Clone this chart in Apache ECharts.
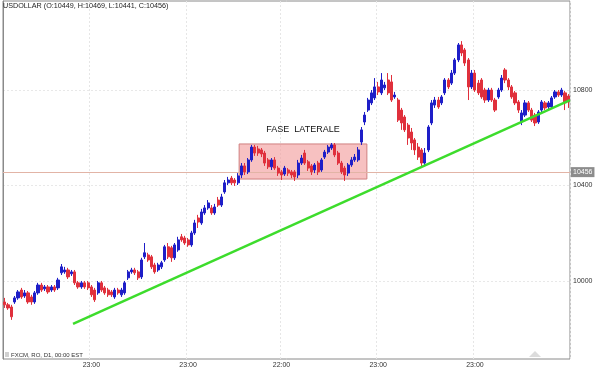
<!DOCTYPE html>
<html>
<head>
<meta charset="utf-8">
<script src="https://cdn.jsdelivr.net/npm/echarts@6/dist/echarts.min.js"></script>
<style>html,body{margin:0;padding:0;background:#fff;}#c{width:600px;height:369px;}</style>
</head>
<body>
<div id="c"></div>
<script>
const headerText = 'USDOLLAR (O:10449, H:10469, L:10441, C:10456)';
const footerText = 'FXCM, RO, D1, 00:00 EST';
const tickIndex = [26, 55, 83, 112, 141];
const tickLabels = ['23:00', '23:00', '22:00', '23:00', '23:00'];
const yTickValues = [10000, 10400, 10800];
const lastPrice = 10456;

const open = [
9912,9900,9891,9912,9929,9962,9937,9950,9933,9912,
9950,9983,9967,9975,9962,9975,9971,10034,10038,10046,
10030,10038,9992,9975,9992,9992,9975,9962,9950,9992,
9971,9962,9954,9933,9962,9942,9950,10013,10038,10046,
10038,10017,10101,10109,10101,10067,10046,10059,10088,10143,
10139,10097,10130,10185,10180,10172,10151,10201,10264,10243,
10285,10306,10306,10285,10339,10318,10373,10411,10431,10423,
10411,10444,10482,10457,10507,10561,10553,10549,10536,10507,
10478,10507,10473,10457,10448,10465,10457,10457,10444,10494,
10536,10499,10482,10465,10494,10465,10519,10540,10557,10570,
10536,10494,10473,10452,10486,10507,10507,10582,10666,10716,
10746,10767,10813,10788,10809,10842,10834,10771,10758,10716,
10687,10653,10624,10591,10561,10549,10494,10549,10662,10737,
10758,10746,10788,10842,10829,10871,10926,10989,10968,10926,
10813,10871,10829,10842,10800,10758,10800,10758,10771,10800,
10884,10842,10813,10788,10750,10666,10695,10746,10716,10695,
10666,10716,10746,10729,10729,10771,10792,10779,10788,10775];
const close = [
9900,9887,9850,9929,9954,9933,9950,9912,9912,9950,
9983,9962,9975,9954,9975,9962,10004,10059,10046,10017,
10038,9992,9975,9992,9975,9971,9942,9921,9992,9962,
9950,9942,9942,9962,9950,9962,9992,10038,10046,10034,
10013,10088,10118,10088,10059,10038,10067,10076,10143,10101,
10097,10151,10172,10172,10159,10151,10201,10243,10247,10289,
10306,10327,10285,10310,10318,10352,10411,10423,10411,10411,
10440,10482,10457,10507,10561,10536,10536,10532,10494,10478,
10507,10473,10452,10444,10473,10452,10444,10436,10494,10515,
10494,10473,10457,10486,10457,10507,10540,10561,10570,10528,
10494,10457,10444,10486,10507,10519,10549,10633,10695,10758,
10788,10813,10792,10842,10821,10788,10758,10779,10674,10662,
10633,10599,10578,10549,10519,10494,10536,10645,10746,10758,
10729,10771,10842,10813,10871,10926,10989,10955,10913,10813,
10871,10800,10788,10771,10758,10800,10758,10716,10800,10850,
10842,10813,10771,10746,10716,10704,10746,10716,10674,10662,
10708,10750,10725,10746,10767,10792,10779,10800,10746,10750];
const low = [
9887,9879,9837,9904,9921,9925,9929,9904,9900,9904,
9942,9954,9958,9946,9954,9954,9962,10025,10030,10008,
10021,9983,9967,9967,9967,9962,9933,9912,9942,9954,
9942,9933,9933,9925,9942,9933,9942,10004,10030,10025,
10004,10008,10092,10080,10050,10030,10038,10050,10080,10092,
10080,10088,10122,10164,10151,10143,10143,10193,10222,10235,
10277,10298,10277,10277,10310,10310,10365,10402,10402,10398,
10402,10431,10444,10448,10499,10524,10524,10519,10482,10469,
10465,10465,10440,10423,10440,10440,10431,10419,10431,10486,
10486,10461,10444,10452,10444,10457,10511,10532,10549,10519,
10486,10448,10419,10440,10478,10499,10499,10570,10653,10708,
10737,10758,10779,10779,10800,10779,10750,10763,10666,10633,
10624,10570,10549,10528,10507,10482,10486,10540,10653,10725,
10721,10737,10779,10804,10821,10863,10917,10942,10901,10758,
10804,10792,10779,10763,10746,10750,10750,10708,10763,10792,
10829,10800,10763,10737,10704,10653,10687,10708,10666,10649,
10658,10704,10716,10716,10721,10763,10771,10771,10716,10725];
const high = [
9929,9908,9900,9937,9962,9971,9962,9958,9942,9958,
9992,9992,9983,9983,9983,9983,10013,10071,10059,10055,
10046,10046,10000,10000,10000,10000,9983,9971,10000,10000,
9979,9971,9962,9971,9971,9971,10000,10046,10055,10055,
10046,10097,10159,10118,10109,10076,10076,10084,10151,10159,
10147,10159,10185,10197,10189,10180,10210,10256,10277,10302,
10318,10339,10318,10323,10352,10365,10423,10436,10440,10431,
10452,10494,10494,10515,10570,10570,10566,10557,10545,10515,
10515,10519,10482,10465,10482,10473,10465,10465,10507,10528,
10549,10507,10490,10494,10503,10515,10549,10570,10578,10578,
10545,10503,10482,10494,10519,10532,10561,10645,10708,10767,
10800,10850,10834,10871,10834,10871,10863,10792,10767,10725,
10695,10662,10641,10599,10578,10557,10557,10653,10758,10771,
10771,10779,10850,10850,10884,10934,10997,11005,10976,10934,
10884,10884,10842,10850,10809,10809,10809,10767,10809,10863,
10892,10850,10821,10796,10758,10716,10758,10754,10725,10704,
10716,10758,10754,10754,10775,10800,10800,10809,10796,10783];

// trend line (index position, price) and lateral box
const trendX = [21, 170];
const trendY = [9820, 10758];
const boxX = [70.8, 109.1];
const boxY = [10427, 10574];
const boxLabel = 'FASE  LATERALE';

const N = open.length;
const categories = Array.from({length: N}, (_, i) => String(i + 1));
const candles = open.map((o, i) => [o, close[i], low[i], high[i]]);
const tickSet = new Set(tickIndex);

const chart = echarts.init(document.getElementById('c'), null, {renderer: 'canvas'});
const FONT = 'Liberation Sans, Arial, sans-serif';
chart.setOption({
  animation: false,
  backgroundColor: '#fff',
  textStyle: {fontFamily: FONT},
  title: [
    {text: headerText, left: 3, top: 3, padding: 0,
     textStyle: {fontSize: 7.2, fontWeight: 'normal', color: '#222', fontFamily: FONT}},
    {text: footerText, left: 11, top: 352, padding: 0,
     textStyle: {fontSize: 6, fontWeight: 'normal', color: '#333', fontFamily: FONT}}
  ],
  grid: {left: 3, right: 30, top: 1, bottom: 10, show: true, borderColor: '#8a8a8a', borderWidth: 1, backgroundColor: 'transparent'},
  xAxis: [
    {type: 'category', data: categories, boundaryGap: true,
     axisLine: {show: false}, axisTick: {show: false},
     axisLabel: {interval: (idx) => tickSet.has(idx), formatter: (v, idx) => tickLabels[tickIndex.indexOf(idx)] || '',
                 fontSize: 7, color: '#333', margin: 3, fontFamily: FONT},
     splitLine: {show: true, interval: (idx) => tickSet.has(idx), lineStyle: {color: '#e6e6e6', type: [2, 2], width: 1}}},
    {type: 'value', min: 0, max: N, show: false}
  ],
  yAxis: {
    type: 'value', position: 'right', min: 9673, max: 11173, scale: true,
    axisLine: {show: true, lineStyle: {color: '#8a8a8a'}},
    axisTick: {show: false, customValues: yTickValues},
    axisLabel: {customValues: yTickValues, formatter: (v) => String(v), fontSize: 7, color: '#333', margin: 3, fontFamily: FONT},
    splitLine: {show: true, lineStyle: {color: '#e8e8e8', type: [2, 2]}}
  },
  series: [
    {
      type: 'candlestick', data: candles, xAxisIndex: 0, barWidth: 2.6, z: 2,
      itemStyle: {color: '#1e1ec8', color0: '#e0303c', borderColor: '#1e1ec8', borderColor0: '#e0303c', borderWidth: 1},
      markLine: {
        silent: true, symbol: 'none', z: 1, animation: false,
        data: [{yAxis: lastPrice}],
        lineStyle: {color: '#e2b4a6', width: 1, type: 'solid'},
        label: {show: true, position: 'end', formatter: String(lastPrice), backgroundColor: '#8c8c8c', color: '#fff',
                fontSize: 7, padding: [2, 2, 1, 2], distance: 1, fontFamily: FONT}
      }
    },
    {
      type: 'line', xAxisIndex: 1, z: 3, symbol: 'none', silent: true,
      data: [[trendX[0], trendY[0]], [trendX[1], trendY[1]]],
      lineStyle: {color: '#3ddc2c', width: 2.5},
      markArea: {
        silent: true,
        itemStyle: {color: 'rgba(242,160,160,0.65)', borderColor: '#cf7f7f', borderWidth: 1},
        label: {show: true, position: 'top', distance: 9, color: '#111', fontSize: 9, fontFamily: FONT},
        data: [[{name: boxLabel, xAxis: boxX[0], yAxis: boxY[1]}, {xAxis: boxX[1], yAxis: boxY[0]}]]
      }
    }
  ],
  graphic: [
    {type: 'rect', shape: {x: 5, y: 352, width: 4, height: 5}, style: {fill: '#d0d0d0'}},
    {type: 'polygon', shape: {points: [[529, 357], [535, 351], [541, 357]]}, style: {fill: '#dcdcdc'}}
  ]
});
</script>
</body>
</html>
